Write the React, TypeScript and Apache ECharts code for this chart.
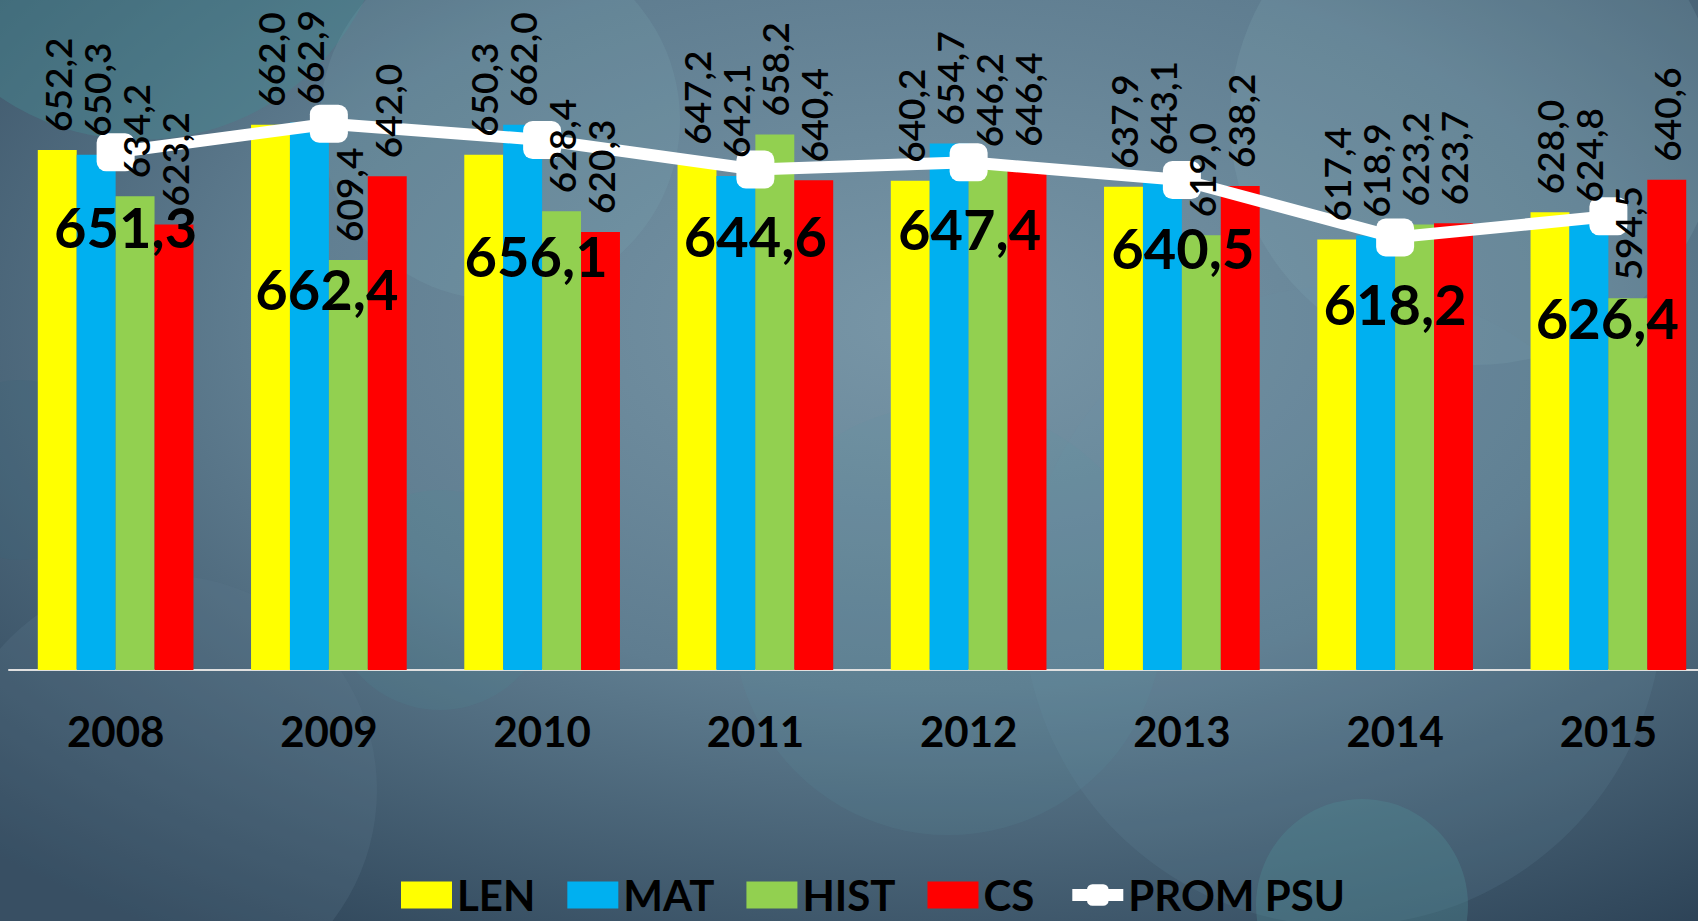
import React, { useEffect, useRef } from "react";
import * as echarts from "echarts";

const years = ["2008", "2009", "2010", "2011", "2012", "2013", "2014", "2015"];
const lenValues = [652.2, 662.0, 650.3, 647.2, 640.2, 637.9, 617.4, 628.0];
const matValues = [650.3, 662.9, 662.0, 642.1, 654.7, 643.1, 618.9, 624.8];
const histValues = [634.2, 609.4, 628.4, 658.2, 646.2, 619.0, 623.2, 594.5];
const csValues = [623.2, 642.0, 620.3, 640.4, 646.4, 638.2, 623.7, 640.6];
const promValues = [651.3, 662.4, 656.1, 644.6, 647.4, 640.5, 618.2, 626.4];

// label placement tweaks for the average labels (layout only)
const promLabelDx = [10, -2, -6, 0, 1, 1, 0, -1];
const promLabelDy = [74, 165, 116, 66, 66, 67, 66, 101];

const FONT = "Lato, 'Open Sans', sans-serif";
const fmt = (v: number) => v.toFixed(1).replace(".", ",");

export default function App() {
  const ref = useRef<HTMLDivElement>(null);
  useEffect(() => {
    if (!ref.current) return;
    const chart = echarts.init(ref.current, null, { renderer: "svg" });

    const barLabel = {
      show: true,
      position: "top",
      rotate: 90,
      align: "left",
      verticalAlign: "middle",
      distance: 18,
      fontSize: 37,
      fontWeight: 600,
      fontFamily: FONT,
      color: "#000",
      formatter: (p: any) => fmt(p.value),
    };

    const common = { type: "bar", barGap: "0%", barCategoryGap: "27%" };

    // visible bars (below the line)
    const mkBar = (name: string, data: number[], color: string) => ({
      ...common,
      name,
      data,
      itemStyle: { color },
      label: { show: false },
      z: 2,
    });

    // invisible twins on a hidden axis, carrying the value labels above the line
    const mkLabelBar = (name: string, data: number[]) => ({
      ...common,
      name,
      data,
      xAxisIndex: 1,
      itemStyle: { color: "rgba(0,0,0,0)" },
      emphasis: { disabled: true },
      silent: true,
      label: barLabel,
      z: 8,
      legendHoverLink: false,
    });

    const circle = (cx: number, cy: number, r: number, fill: string) => ({
      type: "circle",
      shape: { cx, cy, r },
      style: { fill },
      silent: true,
      z: -10,
    });

    const xBase = {
      type: "category",
      data: years,
    };

    const option: any = {
      animation: false,
      color: ["#FFFF00", "#00B0F0", "#92D050", "#FF0000", "#FFFFFF"],
      backgroundColor: {
        type: "radial",
        x: 0.55,
        y: 0.35,
        r: 0.8,
        colorStops: [
          { offset: 0, color: "#7896a7" },
          { offset: 0.5, color: "#5f7d90" },
          { offset: 1, color: "#2c4256" },
        ],
      },
      graphic: [
        circle(140, -110, 250, "rgba(70,135,145,0.45)"),
        circle(500, 120, 180, "rgba(130,170,185,0.18)"),
        circle(1475, 120, 245, "rgba(140,175,190,0.18)"),
        circle(1343, 606, 320, "rgba(110,150,165,0.15)"),
        circle(162, 790, 215, "rgba(90,120,140,0.25)"),
        circle(948, 620, 215, "rgba(90,150,160,0.14)"),
        circle(1362, 905, 106, "rgba(80,140,150,0.35)"),
        circle(20, 470, 90, "rgba(60,100,120,0.25)"),
        circle(440, 600, 110, "rgba(80,140,150,0.18)"),
      ],
      grid: {
        left: 9,
        right: -17,
        top: 27,
        bottom: 251,
        containLabel: false,
        outerBoundsMode: "none",
      },
      legend: {
        left: 396,
        top: 868,
        itemWidth: 51,
        itemHeight: 27,
        itemGap: 32,
        textStyle: {
          fontSize: 42,
          lineHeight: 44,
          fontWeight: "bold",
          color: "#000",
          fontFamily: FONT,
        },
        data: [
          { name: "LEN", icon: "rect" },
          { name: "MAT", icon: "rect" },
          { name: "HIST", icon: "rect" },
          { name: "CS", icon: "rect" },
          { name: "PROM PSU", lineStyle: { width: 12, color: "#fff" } },
        ],
      },
      xAxis: [
        {
          ...xBase,
          axisLine: { show: true, lineStyle: { color: "#e0e0e0", width: 2 } },
          axisTick: { show: false },
          axisLabel: {
            fontSize: 42,
            fontWeight: "bold",
            color: "#000",
            fontFamily: FONT,
            margin: 40,
          },
        },
        { ...xBase, show: false },
      ],
      yAxis: {
        type: "value",
        min: 450,
        max: 700,
        show: false,
        splitLine: { show: false },
      },
      series: [
        mkBar("LEN", lenValues, "#FFFF00"),
        mkBar("MAT", matValues, "#00B0F0"),
        mkBar("HIST", histValues, "#92D050"),
        mkBar("CS", csValues, "#FF0000"),
        {
          name: "PROM PSU",
          type: "line",
          data: promValues.map((v, i) => ({
            value: v,
            label: { offset: [promLabelDx[i], promLabelDy[i]] },
          })),
          z: 5,
          symbol: "roundRect",
          symbolSize: 38,
          itemStyle: { color: "#fff" },
          lineStyle: { color: "#fff", width: 12 },
          label: {
            show: true,
            position: "inside",
            fontSize: 56,
            fontWeight: "bold",
            fontFamily: FONT,
            color: "#000",
            formatter: (p: any) => fmt(p.value),
          },
        },
        mkLabelBar("LEN", lenValues),
        mkLabelBar("MAT", matValues),
        mkLabelBar("HIST", histValues),
        mkLabelBar("CS", csValues),
      ],
    };

    chart.setOption(option);
    return () => chart.dispose();
  }, []);

  return (
    <div
      ref={ref}
      style={{ position: "absolute", left: 0, top: 0, width: 1698, height: 921 }}
    />
  );
}
